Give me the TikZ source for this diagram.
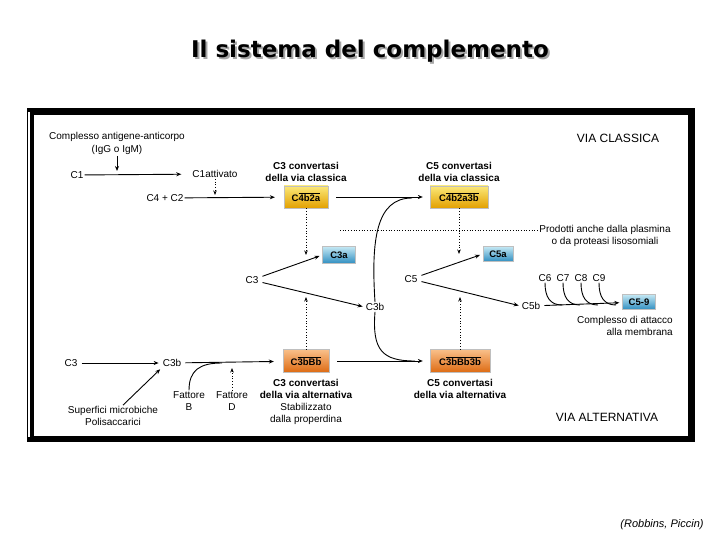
\documentclass[tikz,border=0pt]{standalone}
\usepackage{fontspec}
\setmainfont{Liberation Sans}
\newfontfamily\titlefont{DejaVu Sans}
\usetikzlibrary{arrows.meta,positioning}

\definecolor{goldtop}{HTML}{FBE878}
\definecolor{goldbot}{HTML}{E3A000}
\definecolor{orgtop}{HTML}{F9C08A}
\definecolor{orgbot}{HTML}{DD6A12}
\definecolor{bluetop}{HTML}{C4E8F4}
\definecolor{bluebot}{HTML}{2F8EC0}

\tikzset{
  lbl/.style={font=\fontsize{10}{12}\selectfont, inner sep=1pt, align=center},
  blbl/.style={font=\fontsize{10}{12}\selectfont\bfseries, inner sep=1pt, align=center},
  vialbl/.style={font=\fontsize{12}{14}\selectfont, inner sep=1pt},
  boxbase/.style={draw=black!25, line width=0.3pt, shading=axis, inner sep=0pt,
    font=\fontsize{9.5}{11}\selectfont\bfseries},
  goldbox/.style={boxbase, top color=goldtop, bottom color=goldbot, minimum height=22pt},
  orgbox/.style={boxbase, top color=orgtop, bottom color=orgbot, minimum height=23pt},
  bluebox/.style={boxbase, top color=bluetop, bottom color=bluebot, minimum height=16pt},
  arr/.style={line width=0.9pt, -{Stealth[length=5pt,width=4pt]}},
  dotarr/.style={line width=0.8pt, dotted, -{Stealth[length=4.5pt,width=3.5pt]}},
  curv/.style={line width=0.9pt}
}

\begin{document}
\begin{tikzpicture}[x=1pt,y=-1pt]
\useasboundingbox (0,0) rectangle (720,540);

% title
\node[font=\titlefont\fontsize{23}{26}\selectfont\bfseries, text=black!35] at (372,53) {Il sistema del complemento};
\node[font=\titlefont\fontsize{23}{26}\selectfont\bfseries] (title) at (370,51) {Il sistema del complemento};

% frame
\fill (27,108) rectangle (695,442);
\fill[white] (33.5,115) rectangle (688,436);
\draw[white, line width=1.3pt] (29,112) -- (29,437);

% classical pathway
\node[lbl] (cmplx) at (117,137) {Complesso antigene-anticorpo};
\node[lbl] (igg) at (117,150) {(IgG o IgM)};
\node[lbl] (c1) at (77,175) {C1};
\node[lbl] (c1att) at (215,174) {C1attivato};
\node[lbl] (c4c2) at (165,198) {C4 + C2};
\node[vialbl] (viacl) at (618,138) {VIA CLASSICA};

\node[goldbox, minimum width=44pt] (c4b2a) at (306,197) {C$\overline{\mbox{4b2a}}$};
\node[goldbox, minimum width=58pt] (c4b2a3b) at (459,197) {C$\overline{\mbox{4b2a3b}}$};
\node[blbl, above=3pt of c4b2a] (c3convcl) {C3 convertasi\\della via classica};
\node[blbl, above=3pt of c4b2a3b] (c5convcl) {C5 convertasi\\della via classica};

\node[bluebox, minimum width=33pt, minimum height=17pt] (c3a) at (339,255) {C3a};
\node[lbl] (c3) at (252,280) {C3};
\node[lbl] (c3b) at (375,307) {C3b};

\node[lbl] (plasm) at (605,236) {Prodotti anche dalla plasmina\\o da proteasi lisosomiali};

\node[lbl] (c5) at (411,279) {C5};
\node[bluebox, minimum width=30pt, minimum height=15pt] (c5a) at (498,254) {C5a};
\node[lbl] (c5b) at (531,306) {C5b};
\node[bluebox, minimum width=33pt, minimum height=15pt] (c59) at (639,302) {C5-9};
\node[lbl, align=right, anchor=east] (mac) at (674,326) {Complesso di attacco\\alla membrana};

% alternative pathway
\node[lbl] (c3alt) at (71,363) {C3};
\node[lbl] (c3balt) at (172,363) {C3b};
\node[orgbox, minimum width=46pt] (c3bbb) at (306,361) {C$\overline{\mbox{3bBb}}$};
\node[orgbox, minimum width=60pt] (c3bbb3b) at (460,361) {C$\overline{\mbox{3bBb3b}}$};
\node[blbl, below=5pt of c3bbb] (c3convalt) {C3 convertasi\\della via alternativa};
\node[lbl, below=3pt of c3convalt] (stab) {Stabilizzato\\dalla properdina};
\node[blbl, below=5pt of c3bbb3b] (c5convalt) {C5 convertasi\\della via alternativa};
\node[lbl] (fb) at (189,401) {Fattore\\B};
\node[lbl] (fd) at (232,401) {Fattore\\D};
\node[lbl] (surf) at (113,416) {Superfici microbiche\\Polisaccarici};
\node[vialbl] (viaalt) at (607,417) {VIA ALTERNATIVA};

% connectors, classical
\coordinate (c1hit) at (117,171);
\draw[arr] (igg) -- (c1hit);
\draw[arr, shorten >=10pt] (c1) -- (c1att);
\coordinate (c4hit) at (215,195);
\draw[dotarr] (c1att) -- (c4hit);
\draw[arr, shorten >=9pt] (c4c2) -- (c4b2a);
\draw[arr, shorten <=8pt, shorten >=7pt] (c4b2a) -- (c4b2a3b);

\coordinate (c3cut) at (306,255);
\draw[dotarr] (c4b2a) -- (c3cut);
\draw[arr, shorten <=3pt, shorten >=3pt] (c3) -- (c3a.west);
\draw[arr, shorten <=3pt, shorten >=2pt] (c3) -- (c3b.west);
\coordinate (c3up) at (306,297);
\draw[dotarr] (c3bbb) -- (c3up);

\coordinate (plstart) at (340,230);
\draw[line width=0.7pt, dotted] (plstart) -- (plstart -| plasm.west);

\coordinate (c5cut) at (459,254);
\draw[dotarr] (c4b2a3b) -- (c5cut);
\coordinate (c5up) at (460,297);
\draw[dotarr] (c3bbb3b) -- (c5up);
\draw[arr, shorten <=3pt, shorten >=3pt] (c5) -- (c5a.west);
\draw[arr, shorten <=3pt, shorten >=2pt] (c5) -- (c5b.west);
\draw[arr, shorten <=3pt, shorten >=3pt] (c5b) -- (c59);
\foreach \n/\x in {6/545,7/563,8/581,9/599} {
  \node[lbl] (c\n) at (\x,278) {C\n};
  \draw[curv] (c\n.south) .. controls (\x,297) and ({\x+5},305) .. ({\x+17},305);
}

% C3b feeds both C5 convertases
\coordinate (topjoin) at (412,198);
\draw[curv] (c3b.north) .. controls (371,240) and (376,198) .. (topjoin);
\coordinate (botjoin) at (415,361);
\draw[curv] (c3b.south) .. controls (372,350) and (382,361) .. (botjoin);

% connectors, alternative
\draw[arr, shorten <=3pt, shorten >=3pt] (c3alt) -- (c3balt);
\draw[arr, shorten <=3pt, shorten >=9pt] (c3balt) -- (c3bbb);
\draw[arr, shorten <=8pt, shorten >=7pt] (c3bbb) -- (c3bbb3b);
\coordinate (fbjoin) at (222,363);
\draw[curv] (fb.north) .. controls (189,370) and (200,363) .. (fbjoin);
\coordinate (fdhit) at (232,368);
\draw[dotarr] (fd) -- (fdhit);
\draw[arr, shorten >=2pt] ([xshift=10pt]surf.north) -- (c3balt.south west);

% source
\node[font=\fontsize{11}{13}\selectfont\itshape] (src) at (662,525) {(Robbins, Piccin)};
\end{tikzpicture}
\end{document}
